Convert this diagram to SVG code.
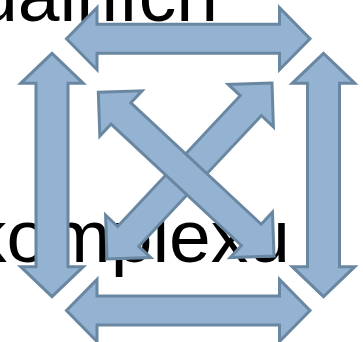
<svg xmlns="http://www.w3.org/2000/svg" width="363" height="342" viewBox="0 0 363 342">
<style>
.t{font-family:"Liberation Sans",Arial,sans-serif;font-size:75px;fill:#000}
.a{fill:#94B3D3;stroke:#6A87A2;stroke-width:3;stroke-linejoin:miter}
</style>
<rect width="363" height="342" fill="#fff"/>
<g id="text">
<text class="t" x="218" y="21" text-anchor="end">uálních</text>
<text class="t" x="-31" y="262">komplexu</text>
</g>
<g id="connectors">
<polygon id="top" class="a" points="66.5,38.7 97,7.7 97,24.2 279.5,24.2 279.5,7.7 310,38.7 279.5,69.7 279.5,53.2 97,53.2 97,69.7"/>
<polygon id="bottom" class="a" points="66.5,310.5 97,279.5 97,296 279.5,296 279.5,279.5 310,310.5 279.5,341.5 279.5,325 97,325 97,341.5"/>
<polygon id="left" class="a" points="52,53.3 83.3,83.3 68,83.3 68,266.7 83.3,266.7 52,296.7 20.7,266.7 36,266.7 36,83.3 20.7,83.3"/>
<polygon id="right" class="a" points="323.5,53.3 354.8,83.3 339.5,83.3 339.5,266.7 354.8,266.7 323.5,296.7 292.2,266.7 307.5,266.7 307.5,83.3 292.2,83.3"/>
<polygon id="diag2" class="a" points="272,83 228.19,84.41 240.22,95.69 117.62,226.47 105.59,215.19 107,259 150.81,257.59 138.78,246.31 261.38,115.53 273.41,126.81"/>
<polygon id="diag1" class="a" points="98.3,92.3 99.84,136.12 111.09,124.05 241.43,245.47 230.18,257.54 274,256 272.46,212.18 261.21,224.25 130.87,102.83 142.12,90.76"/>
</g>
</svg>
